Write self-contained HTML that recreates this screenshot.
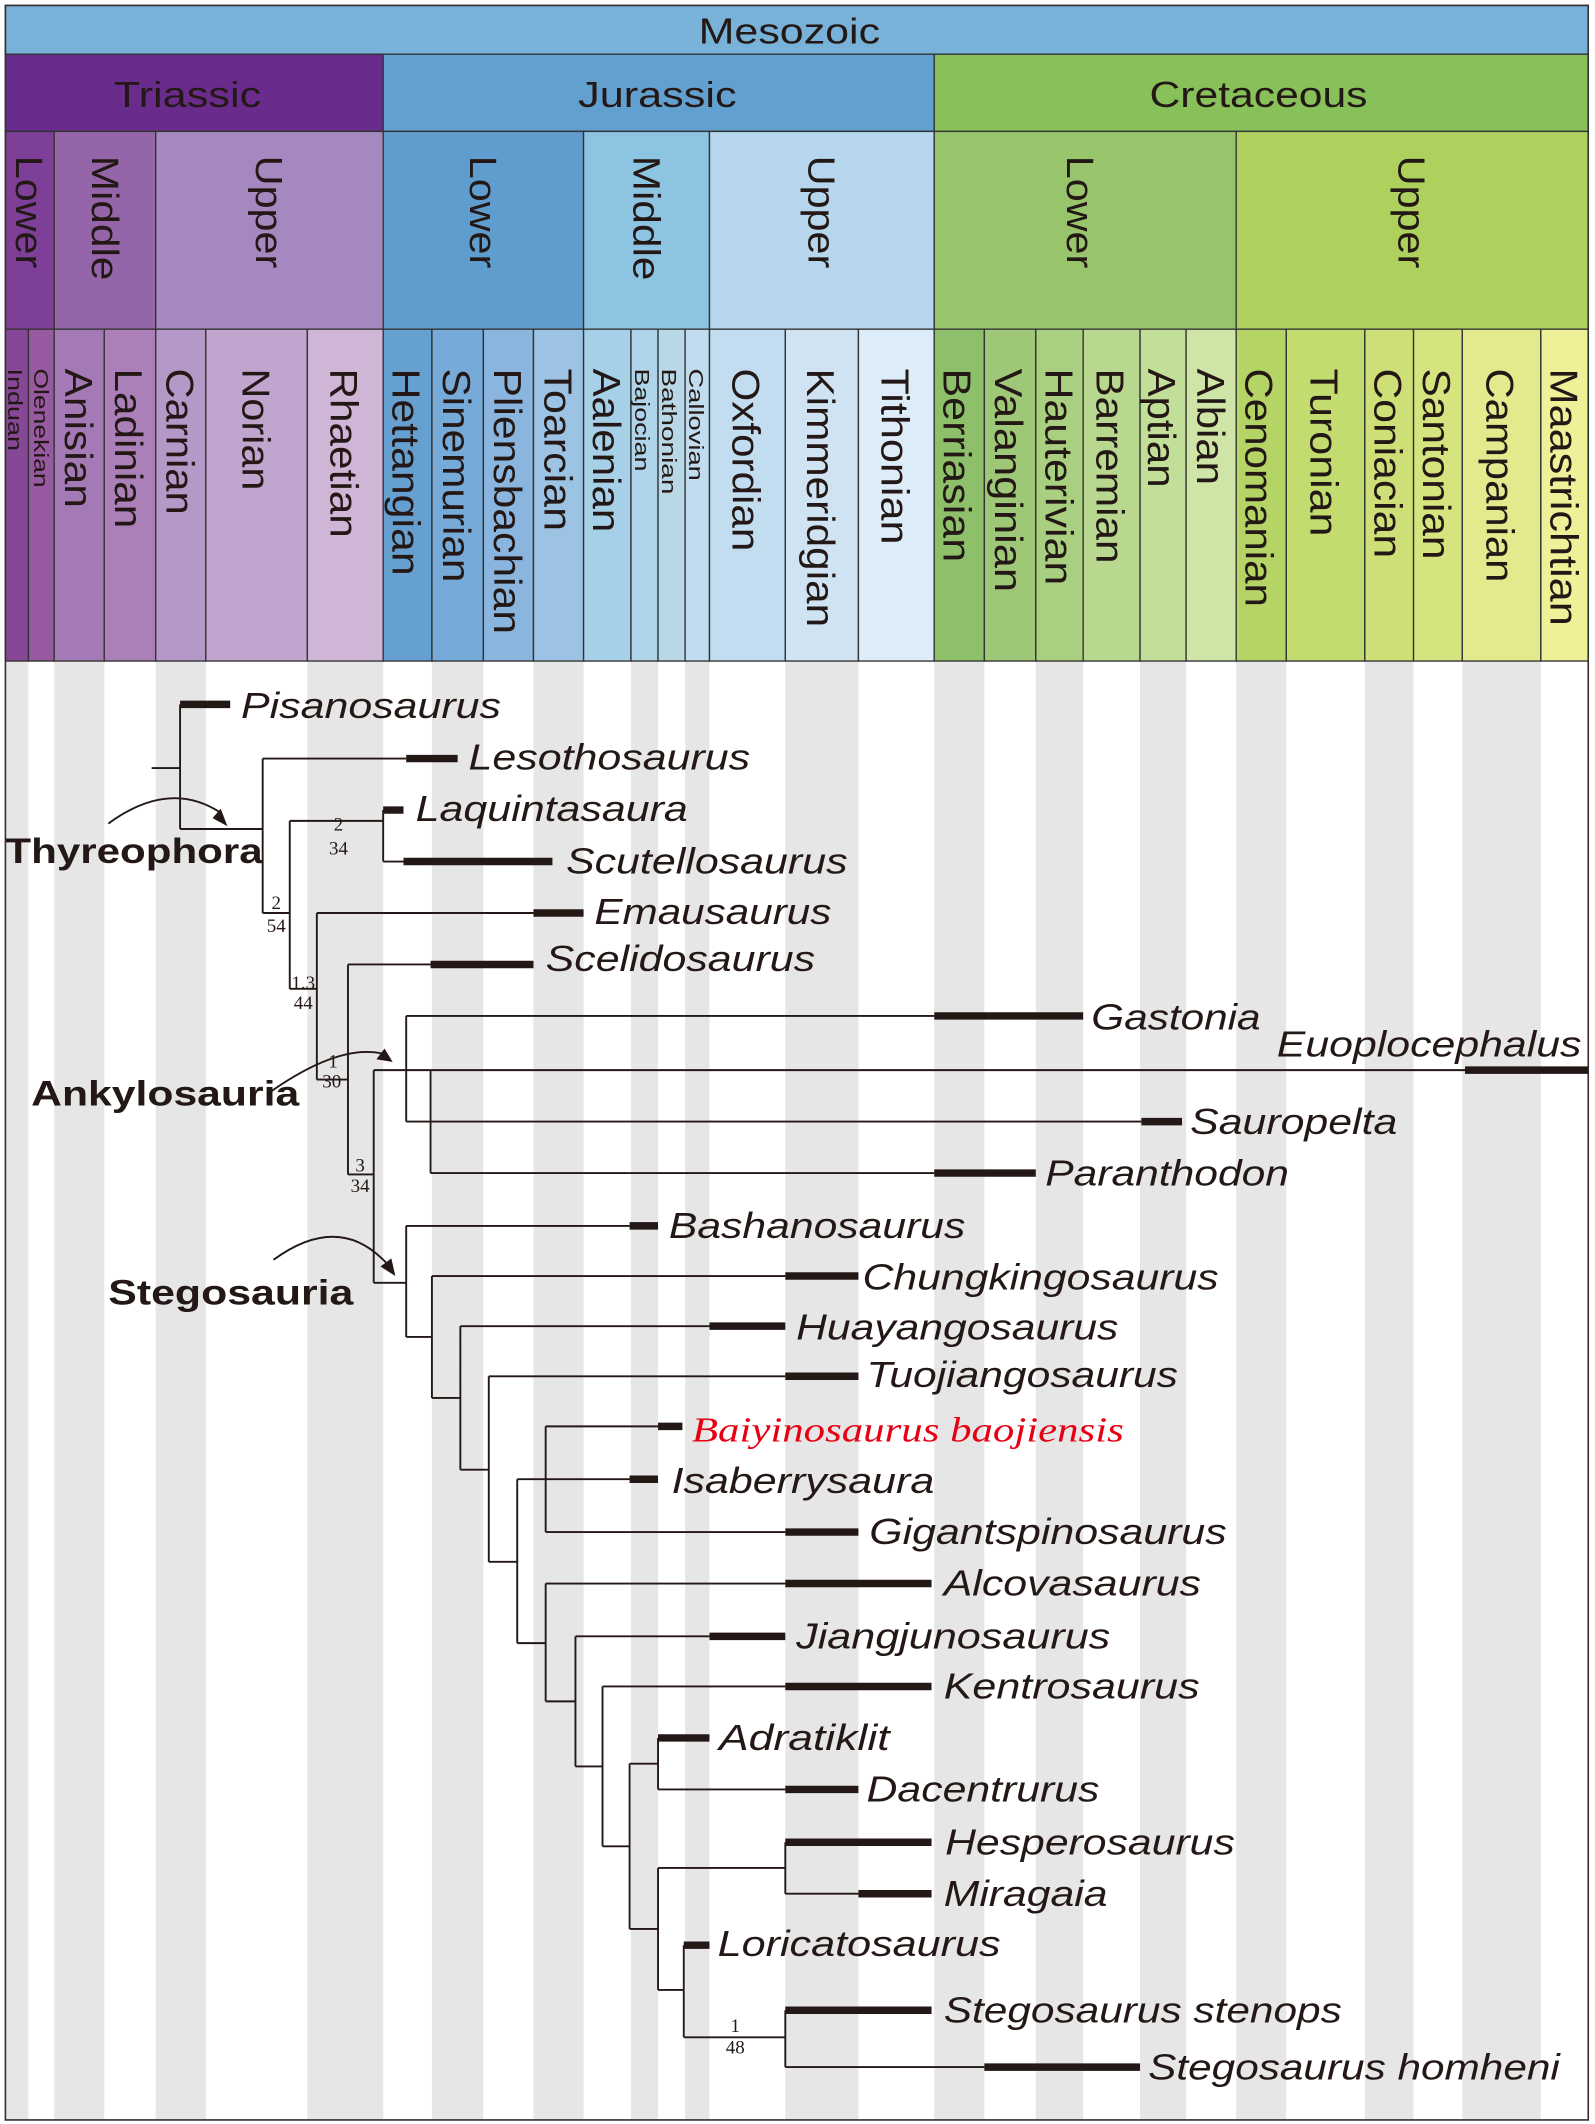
<!DOCTYPE html>
<html><head><meta charset="utf-8"><style>
html,body{margin:0;padding:0;background:#fff}
svg{display:block}
.h{font-family:"Liberation Sans",sans-serif;fill:#231815}
.t{font-family:"Liberation Sans",sans-serif;font-style:italic;font-size:27px;fill:#231815}
.b{font-family:"Liberation Sans",sans-serif;font-weight:bold;font-size:26px;fill:#231815}
.n{font-family:"Liberation Serif",serif;font-size:14px;fill:#231815}
.ln{stroke:#231815;stroke-width:1.4;fill:none}
.bar{stroke:#231815;stroke-width:5.5;fill:none}
</style></head><body>
<svg width="1595" height="2124" viewBox="0 0 1178 1568" preserveAspectRatio="none" xmlns="http://www.w3.org/2000/svg">
<rect x="0" y="0" width="1178" height="1568" fill="#fff"/>
<g fill="#e6e6e6">
<rect x="4" y="488" width="17" height="1077"/>
<rect x="40" y="488" width="37" height="1077"/>
<rect x="115" y="488" width="37" height="1077"/>
<rect x="227" y="488" width="56" height="1077"/>
<rect x="319" y="488" width="38" height="1077"/>
<rect x="394" y="488" width="37" height="1077"/>
<rect x="466" y="488" width="20" height="1077"/>
<rect x="506" y="488" width="18" height="1077"/>
<rect x="580" y="488" width="54" height="1077"/>
<rect x="690" y="488" width="37" height="1077"/>
<rect x="765" y="488" width="35" height="1077"/>
<rect x="842" y="488" width="34" height="1077"/>
<rect x="913" y="488" width="37" height="1077"/>
<rect x="1008" y="488" width="36" height="1077"/>
<rect x="1080" y="488" width="58" height="1077"/>
</g>
<g stroke="#333" stroke-width="1">
<rect x="4" y="4" width="1169" height="36" fill="#78b2d9"/>
<rect x="4" y="40" width="279" height="57" fill="#6a2c8c"/>
<rect x="283" y="40" width="407" height="57" fill="#62a0cf"/>
<rect x="690" y="40" width="483" height="57" fill="#88c05a"/>
<rect x="4" y="97" width="36" height="146" fill="#7e3f98"/>
<rect x="40" y="97" width="75" height="146" fill="#9466a9"/>
<rect x="115" y="97" width="168" height="146" fill="#a488bf"/>
<rect x="283" y="97" width="148" height="146" fill="#5f9dcf"/>
<rect x="431" y="97" width="93" height="146" fill="#8cc4e2"/>
<rect x="524" y="97" width="166" height="146" fill="#b5d6ec"/>
<rect x="690" y="97" width="223" height="146" fill="#98c56b"/>
<rect x="913" y="97" width="260" height="146" fill="#aed05c"/>
<rect x="4" y="243" width="17" height="245" fill="#874797"/>
<rect x="21" y="243" width="19" height="245" fill="#975aa0"/>
<rect x="40" y="243" width="37" height="245" fill="#a47ab6"/>
<rect x="77" y="243" width="38" height="245" fill="#ab80b9"/>
<rect x="115" y="243" width="37" height="245" fill="#b398c8"/>
<rect x="152" y="243" width="75" height="245" fill="#c0a6cf"/>
<rect x="227" y="243" width="56" height="245" fill="#cfb6d7"/>
<rect x="283" y="243" width="36" height="245" fill="#66a0d1"/>
<rect x="319" y="243" width="38" height="245" fill="#76aad8"/>
<rect x="357" y="243" width="37" height="245" fill="#8ab5de"/>
<rect x="394" y="243" width="37" height="245" fill="#9dc3e4"/>
<rect x="431" y="243" width="35" height="245" fill="#a5d0e7"/>
<rect x="466" y="243" width="20" height="245" fill="#aed4ea"/>
<rect x="486" y="243" width="20" height="245" fill="#b8d8e8"/>
<rect x="506" y="243" width="18" height="245" fill="#c0dcee"/>
<rect x="524" y="243" width="56" height="245" fill="#c2dcf0"/>
<rect x="580" y="243" width="54" height="245" fill="#cfe3f3"/>
<rect x="634" y="243" width="56" height="245" fill="#dcecf8"/>
<rect x="690" y="243" width="37" height="245" fill="#8ec06b"/>
<rect x="727" y="243" width="38" height="245" fill="#9ec877"/>
<rect x="765" y="243" width="35" height="245" fill="#a9cf80"/>
<rect x="800" y="243" width="42" height="245" fill="#b7d88e"/>
<rect x="842" y="243" width="34" height="245" fill="#c2df9a"/>
<rect x="876" y="243" width="37" height="245" fill="#cfe4a7"/>
<rect x="913" y="243" width="37" height="245" fill="#b5d466"/>
<rect x="950" y="243" width="58" height="245" fill="#c2dc6f"/>
<rect x="1008" y="243" width="36" height="245" fill="#cddf76"/>
<rect x="1044" y="243" width="36" height="245" fill="#d6e47f"/>
<rect x="1080" y="243" width="58" height="245" fill="#e3ea8d"/>
<rect x="1138" y="243" width="35" height="245" fill="#eef198"/>
</g>
<rect x="4" y="4" width="1169" height="1561" fill="none" stroke="#333" stroke-width="1.2"/>
<g class="h" font-size="27">
<text x="516" y="32" textLength="134" lengthAdjust="spacingAndGlyphs">Mesozoic</text>
<text x="84" y="79" textLength="109" lengthAdjust="spacingAndGlyphs">Triassic</text>
<text x="427" y="79" textLength="117" lengthAdjust="spacingAndGlyphs">Jurassic</text>
<text x="849" y="79" textLength="161" lengthAdjust="spacingAndGlyphs">Cretaceous</text>
</g>
<g class="h" font-size="28" lengthAdjust="spacingAndGlyphs">
<text transform="translate(12,115) rotate(90)" textLength="83" lengthAdjust="spacingAndGlyphs">Lower</text>
<text transform="translate(68,115) rotate(90)" textLength="92" lengthAdjust="spacingAndGlyphs">Middle</text>
<text transform="translate(189,115) rotate(90)" textLength="83" lengthAdjust="spacingAndGlyphs">Upper</text>
<text transform="translate(347,115) rotate(90)" textLength="83" lengthAdjust="spacingAndGlyphs">Lower</text>
<text transform="translate(468,115) rotate(90)" textLength="92" lengthAdjust="spacingAndGlyphs">Middle</text>
<text transform="translate(597,115) rotate(90)" textLength="83" lengthAdjust="spacingAndGlyphs">Upper</text>
<text transform="translate(788,115) rotate(90)" textLength="83" lengthAdjust="spacingAndGlyphs">Lower</text>
<text transform="translate(1033,115) rotate(90)" textLength="83" lengthAdjust="spacingAndGlyphs">Upper</text>
</g>
<g class="h" font-size="29">
<text transform="translate(48,272) rotate(90)" textLength="103" lengthAdjust="spacingAndGlyphs">Anisian</text>
<text transform="translate(85,272) rotate(90)" textLength="118" lengthAdjust="spacingAndGlyphs">Ladinian</text>
<text transform="translate(123,272) rotate(90)" textLength="108" lengthAdjust="spacingAndGlyphs">Carnian</text>
<text transform="translate(179,272) rotate(90)" textLength="90" lengthAdjust="spacingAndGlyphs">Norian</text>
<text transform="translate(244,272) rotate(90)" textLength="125" lengthAdjust="spacingAndGlyphs">Rhaetian</text>
<text transform="translate(290,272) rotate(90)" textLength="153" lengthAdjust="spacingAndGlyphs">Hettangian</text>
<text transform="translate(327,272) rotate(90)" textLength="158" lengthAdjust="spacingAndGlyphs">Sinemurian</text>
<text transform="translate(365,272) rotate(90)" textLength="196" lengthAdjust="spacingAndGlyphs">Pliensbachian</text>
<text transform="translate(402,272) rotate(90)" textLength="120" lengthAdjust="spacingAndGlyphs">Toarcian</text>
<text transform="translate(438,272) rotate(90)" textLength="121" lengthAdjust="spacingAndGlyphs">Aalenian</text>
<text transform="translate(541,272) rotate(90)" textLength="135" lengthAdjust="spacingAndGlyphs">Oxfordian</text>
<text transform="translate(596,272) rotate(90)" textLength="191" lengthAdjust="spacingAndGlyphs">Kimmeridgian</text>
<text transform="translate(651,272) rotate(90)" textLength="130" lengthAdjust="spacingAndGlyphs">Tithonian</text>
<text transform="translate(697,272) rotate(90)" textLength="143" lengthAdjust="spacingAndGlyphs">Berriasian</text>
<text transform="translate(735,272) rotate(90)" textLength="165" lengthAdjust="spacingAndGlyphs">Valanginian</text>
<text transform="translate(772,272) rotate(90)" textLength="160" lengthAdjust="spacingAndGlyphs">Hauterivian</text>
<text transform="translate(810,272) rotate(90)" textLength="144" lengthAdjust="spacingAndGlyphs">Barremian</text>
<text transform="translate(848,272) rotate(90)" textLength="88" lengthAdjust="spacingAndGlyphs">Aptian</text>
<text transform="translate(884,272) rotate(90)" textLength="86" lengthAdjust="spacingAndGlyphs">Albian</text>
<text transform="translate(920,272) rotate(90)" textLength="176" lengthAdjust="spacingAndGlyphs">Cenomanian</text>
<text transform="translate(968,272) rotate(90)" textLength="124" lengthAdjust="spacingAndGlyphs">Turonian</text>
<text transform="translate(1015,272) rotate(90)" textLength="140" lengthAdjust="spacingAndGlyphs">Coniacian</text>
<text transform="translate(1051,272) rotate(90)" textLength="141" lengthAdjust="spacingAndGlyphs">Santonian</text>
<text transform="translate(1098,272) rotate(90)" textLength="158" lengthAdjust="spacingAndGlyphs">Campanian</text>
<text transform="translate(1145,272) rotate(90)" textLength="190" lengthAdjust="spacingAndGlyphs">Maastrichtian</text>
</g>
<g class="h" font-size="15">
<text transform="translate(6,272) rotate(90)" textLength="61" lengthAdjust="spacingAndGlyphs">Induan</text>
<text transform="translate(25,272) rotate(90)" textLength="88" lengthAdjust="spacingAndGlyphs">Olenekian</text>
<text transform="translate(469,272) rotate(90)" textLength="76" lengthAdjust="spacingAndGlyphs">Bajocian</text>
<text transform="translate(489,272) rotate(90)" textLength="93" lengthAdjust="spacingAndGlyphs">Bathonian</text>
<text transform="translate(509,272) rotate(90)" textLength="83" lengthAdjust="spacingAndGlyphs">Callovian</text>
</g>
<path class="ln" d="
M112 567H133 M133 520V612 M133 612H194
M194 560V674 M194 560H300 M194 674H214
M214 606V730 M214 606H283 M283 598V636 M283 636H298 M214 730H234
M234 674V797 M234 674H394 M234 797H257
M257 712V867 M257 712H318 M257 867H276
M276 790V947 M276 790H1082 M300 750V828 M300 750H690 M300 828H843
M318 790V866 M318 866H690
M276 947H300 M300 905V987 M300 905H465 M300 987H319
M319 942V1032 M319 942H580 M319 1032H340
M340 979V1085 M340 979H524 M340 1085H361
M361 1016V1153 M361 1016H580 M361 1153H382
M382 1092V1213 M382 1092H465
M403 1053V1131 M403 1053H486 M403 1131H580
M382 1213H403 M403 1169V1256 M403 1169H580 M403 1256H425
M425 1208V1304 M425 1208H524 M425 1304H445
M445 1245V1363 M445 1245H580 M445 1363H465
M465 1302V1424 M465 1302H486 M486 1283V1321 M486 1321H580
M465 1424H486 M486 1379V1469 M486 1379H580
M580 1360V1398 M580 1398H634
M486 1469H505 M505 1436V1504 M505 1504H580
M580 1484V1526 M580 1526H727
"/>
<path class="bar" d="
M133 520H170 M300 560H338 M283 598H298 M298 636H408 M394 674H431 M318 712H394
M690 750H800 M1082 790H1173 M843 828H873 M690 866H765
M465 905H486 M580 942H634 M524 979H580 M580 1016H634
M486 1053H504 M465 1092H486 M580 1131H634 M580 1169H688
M524 1208H580 M580 1245H688 M486 1283H524 M580 1321H634
M580 1360H688 M634 1398H688 M505 1436H524 M580 1484H688 M727 1526H842
"/>
<g stroke="#231815" stroke-width="1.4" fill="none">
<path d="M80 608 Q125 575 163 600"/>
<path d="M197 808 Q250 770 283 778"/>
<path d="M202 930 Q250 895 285 932"/>
</g>
<g fill="#231815">
<polygon points="168,610 157,604 163,597"/>
<polygon points="290,784 278,782 284,774"/>
<polygon points="292,942 281,935 289,929"/>
</g>
<g class="n" text-anchor="middle">
<text x="250" y="613">2</text><text x="250" y="631">34</text>
<text x="204" y="671">2</text><text x="204" y="688">54</text>
<text x="224" y="730">1.3</text><text x="224" y="745">44</text>
<text x="246" y="788">1</text><text x="245" y="803">30</text>
<text x="266" y="865">3</text><text x="266" y="880">34</text>
<text x="543" y="1500">1</text><text x="543" y="1516">48</text>
</g>
<text class="b" x="4" y="637" textLength="190" lengthAdjust="spacingAndGlyphs">Thyreophora</text>
<text class="b" x="23" y="816" textLength="198" lengthAdjust="spacingAndGlyphs">Ankylosauria</text>
<text class="b" x="80" y="963" textLength="181" lengthAdjust="spacingAndGlyphs">Stegosauria</text>
<g class="t">
<text x="178" y="530" textLength="192" lengthAdjust="spacingAndGlyphs">Pisanosaurus</text>
<text x="346" y="568" textLength="208" lengthAdjust="spacingAndGlyphs">Lesothosaurus</text>
<text x="307" y="606" textLength="201" lengthAdjust="spacingAndGlyphs">Laquintasaura</text>
<text x="418" y="645" textLength="208" lengthAdjust="spacingAndGlyphs">Scutellosaurus</text>
<text x="439" y="682" textLength="175" lengthAdjust="spacingAndGlyphs">Emausaurus</text>
<text x="403" y="717" textLength="199" lengthAdjust="spacingAndGlyphs">Scelidosaurus</text>
<text x="806" y="760" textLength="125" lengthAdjust="spacingAndGlyphs">Gastonia</text>
<text x="943" y="780" textLength="225" lengthAdjust="spacingAndGlyphs">Euoplocephalus</text>
<text x="879" y="837" textLength="153" lengthAdjust="spacingAndGlyphs">Sauropelta</text>
<text x="772" y="875" textLength="180" lengthAdjust="spacingAndGlyphs">Paranthodon</text>
<text x="494" y="914" textLength="219" lengthAdjust="spacingAndGlyphs">Bashanosaurus</text>
<text x="637" y="952" textLength="263" lengthAdjust="spacingAndGlyphs">Chungkingosaurus</text>
<text x="588" y="989" textLength="238" lengthAdjust="spacingAndGlyphs">Huayangosaurus</text>
<text x="640" y="1024" textLength="230" lengthAdjust="spacingAndGlyphs">Tuojiangosaurus</text>
<text x="511" y="1064" textLength="319" lengthAdjust="spacingAndGlyphs" style="font-family:'Liberation Serif',serif;fill:#e60012;font-size:26px">Baiyinosaurus baojiensis</text>
<text x="496" y="1102" textLength="194" lengthAdjust="spacingAndGlyphs">Isaberrysaura</text>
<text x="642" y="1140" textLength="264" lengthAdjust="spacingAndGlyphs">Gigantspinosaurus</text>
<text x="697" y="1178" textLength="190" lengthAdjust="spacingAndGlyphs">Alcovasaurus</text>
<text x="588" y="1217" textLength="232" lengthAdjust="spacingAndGlyphs">Jiangjunosaurus</text>
<text x="697" y="1254" textLength="189" lengthAdjust="spacingAndGlyphs">Kentrosaurus</text>
<text x="531" y="1292" textLength="126" lengthAdjust="spacingAndGlyphs">Adratiklit</text>
<text x="640" y="1330" textLength="172" lengthAdjust="spacingAndGlyphs">Dacentrurus</text>
<text x="698" y="1369" textLength="214" lengthAdjust="spacingAndGlyphs">Hesperosaurus</text>
<text x="697" y="1407" textLength="121" lengthAdjust="spacingAndGlyphs">Miragaia</text>
<text x="530" y="1444" textLength="209" lengthAdjust="spacingAndGlyphs">Loricatosaurus</text>
<text x="697" y="1493" textLength="294" lengthAdjust="spacingAndGlyphs">Stegosaurus stenops</text>
<text x="848" y="1535" textLength="304" lengthAdjust="spacingAndGlyphs">Stegosaurus homheni</text>
</g>
</svg>
</body></html>
